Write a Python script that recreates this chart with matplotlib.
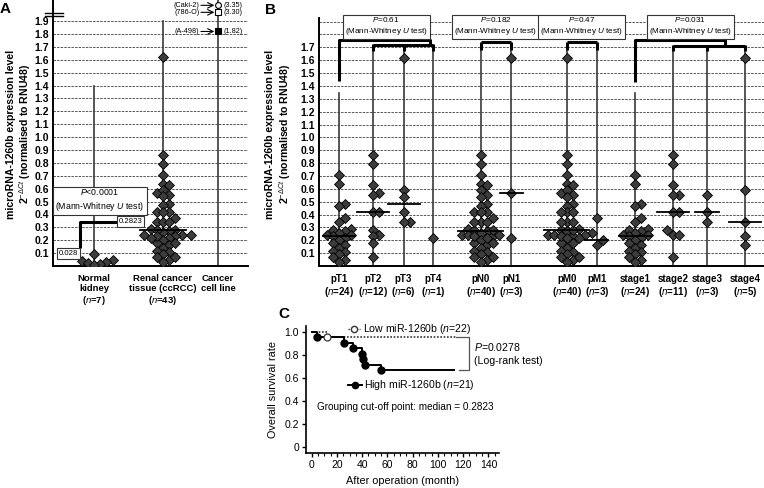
import numpy as np
import matplotlib
matplotlib.use("Agg")
import matplotlib.pyplot as plt
from matplotlib.lines import Line2D

plt.rcParams["font.family"] = ["Liberation Sans", "DejaVu Sans"]
plt.rcParams["mathtext.fontset"] = "custom"
plt.rcParams["mathtext.rm"] = "Liberation Sans"
plt.rcParams["mathtext.it"] = "Liberation Sans:italic"
plt.rcParams["mathtext.bf"] = "Liberation Sans:bold"

# ---- data ----
kidney = [0.09, 0.05, 0.035, 0.028, 0.02, 0.012, 0.008]

pT1 = [0.71, 0.64, 0.48, 0.47, 0.37, 0.34, 0.29, 0.28, 0.27, 0.26, 0.24, 0.24,
       0.23, 0.22, 0.20, 0.18, 0.16, 0.14, 0.12, 0.11, 0.09, 0.07, 0.05, 0.03]
pT2 = [0.86, 0.79, 0.63, 0.57, 0.55, 0.42, 0.42, 0.28, 0.24, 0.23, 0.18, 0.07]
pT3 = [1.62, 0.59, 0.54, 0.42, 0.34, 0.34]
pT4 = [0.22]
pN1 = [1.62, 0.57, 0.22]
pM1 = [0.37, 0.20, 0.16]
stage1 = list(pT1)
stage2 = [0.86, 0.79, 0.63, 0.55, 0.55, 0.42, 0.42, 0.28, 0.24, 0.24, 0.07]
stage3 = [0.55, 0.42, 0.34]
stage4 = [1.62, 0.59, 0.34, 0.23, 0.16]

renal = pT1 + pT2 + pT3 + pT4


def without(values, removed):
    rest = list(values)
    for v in removed:
        rest.remove(v)
    return rest


pN0 = without(renal, pN1)
pM0 = without(renal, pM1)

cell_names = ["Caki-2", "786-O", "A-498"]
cell_values = [3.35, 3.30, 1.82]

b_names = ["pT1", "pT2", "pT3", "pT4", "pN0", "pN1",
           "pM0", "pM1", "stage1", "stage2", "stage3", "stage4"]
b_groups = [pT1, pT2, pT3, pT4, pN0, pN1, pM0, pM1, stage1, stage2, stage3, stage4]
b_pvalues = ["0.61", "0.182", "0.47", "0.031"]

low_t = [0, 12.5, 114]
low_s = [1.0, 0.955, 0.955]
high_t = [0, 4, 26, 33, 40, 41, 42, 55, 113]
high_s = [1.0, 0.952, 0.905, 0.857, 0.810, 0.762, 0.714, 0.667, 0.667]

# ---- layout ----
W, H = 764, 488
fig = plt.figure(figsize=(W / 100, H / 100), dpi=100)


def px_axes(l, t, r, b):
    return fig.add_axes([l / W, 1 - b / H, (r - l) / W, (b - t) / H])


def swarm(values, ppu_x, ppu_y, d=6.2):
    # simple beeswarm: push points sideways until they stop overlapping
    vals = np.asarray(values, float)
    steps = [0.0]
    for j in range(1, 40):
        steps += [j * 0.5 * d, -j * 0.5 * d]
    placed = []
    offs = np.zeros(len(vals))
    for i in np.argsort(vals):
        y = vals[i] * ppu_y
        for c in steps:
            if all((c - px) ** 2 + (y - py) ** 2 >= d ** 2 for px, py in placed):
                break
        placed.append((c, y))
        offs[i] = c / ppu_x
    return offs


levels = np.round(np.arange(1, 20) * 0.1, 1)
grid_kw = dict(color="#555555", lw=0.7, ls=(0, (2.5, 1.2)), zorder=0)
stem_kw = dict(color="#3a3a3a", lw=1.2, zorder=1)
dia_kw = dict(ls="none", marker="D", ms=4.8, mfc="#3c3c3c", mec="black", mew=0.6, zorder=3)
brk_kw = dict(color="black", lw=2.2, solid_capstyle="butt", zorder=2)
box_kw = dict(boxstyle="square,pad=0.25", fc="white", ec="#333333", lw=0.8)

# ================= panel A =================
axA = px_axes(53, 16, 248, 266)
axAt = px_axes(53, 0, 248, 14)
a_pos = [1.0, 2.0, 2.8]
axA.set_xlim(0.406, 3.232)
axA.set_ylim(0, 1.94)
axAt.set_xlim(0.406, 3.232)
axAt.set_ylim(3.288, 3.388)

for v in levels:
    axA.axhline(v, **grid_kw)
for ax in (axA, axAt):
    for s in ("top", "right"):
        ax.spines[s].set_visible(False)
    ax.spines["left"].set_linewidth(1.4)
axAt.spines["bottom"].set_visible(False)
axA.spines["bottom"].set_linewidth(1.4)
axAt.set_xticks([])
axAt.set_yticks([])

axA.set_yticks(levels, [f"{v:.1f}" for v in levels])
axA.set_xticks(a_pos, ["Normal\nkidney\n($n$=%d)" % len(kidney),
                       "Renal cancer\ntissue (ccRCC)\n($n$=%d)" % len(renal),
                       "Cancer\ncell line"])
axA.tick_params(length=0, labelsize=7.5, pad=3)
axA.tick_params(axis="x", pad=6, labelsize=6.8)
for t in axA.get_xticklabels() + axA.get_yticklabels():
    t.set_fontweight("bold")
    t.set_linespacing(1.1)

axA.plot([1, 1], [0, 1.4], **stem_kw)
axA.plot([2, 2], [0, 1.9], **stem_kw)
axA.axvline(2.8, **stem_kw)
axAt.axvline(2.8, **stem_kw)

axA.plot(1 + swarm(kidney, 69, 128.9), kidney, **dia_kw)
axA.plot(2 + swarm(renal, 69, 128.9), renal, **dia_kw)
axA.plot([2 - 0.33, 2 + 0.33], [np.median(renal)] * 2, color="black", lw=1.3, zorder=4)

# cell lines
cell_style = [dict(marker="o", mfc="white"), dict(marker="s", mfc="white"),
              dict(marker="s", mfc="black")]
for name, val, st in zip(cell_names, cell_values, cell_style):
    ax = axAt if val > 2 else axA
    ax.plot([2.8], [val], ls="none", ms=4.2, mec="black", mew=0.8, zorder=5,
            clip_on=False, **st)
    ax.text(2.53, val, f"({name})", ha="right", va="center", fontsize=5.2)
    ax.annotate("", xy=(2.745, val), xytext=(2.55, val),
                arrowprops=dict(arrowstyle="->", lw=0.8, color="black",
                                shrinkA=0, shrinkB=0))
    ax.text(2.88, val, f"({val:.2f})", ha="left", va="center", fontsize=5.2)

axA.text(1.085, 0.512, "$P$<0.0001\n(Mann-Whitney $U$ test)", ha="center",
         va="center", fontsize=6.3, bbox=box_kw, zorder=6, linespacing=1.3)
axA.text(0.63, 0.10, "0.028", ha="center", va="center", fontsize=5.6,
         bbox=box_kw, zorder=6)
axA.text(1.53, 0.345, "%.4f" % 0.2823, ha="center", va="center", fontsize=5.6,
         bbox=box_kw, zorder=6)
axA.plot([0.797, 0.797, 1.33], [0.14, 0.345, 0.345], **brk_kw)

# axis break marks
for yy in (13.2, 16.3):
    fig.add_artist(Line2D([45 / W, 63 / W], [1 - yy / H] * 2, color="black", lw=1.0))

fig.text(5 / W, 1 - 9 / H, "A", fontsize=11, fontweight="bold", ha="center", va="center")
fig.text(19.5 / W, 1 - 134 / H,
         "microRNA-1260b expression level\n2$^{-\\Delta Ct}$ (normalised to RNU48)",
         rotation=90, ha="center", va="center", fontsize=7.6, fontweight="bold",
         linespacing=1.15)

# ================= panel B =================
axB = px_axes(319, 18, 764, 266)
b_pos = [0.625, 1.68, 2.64, 3.57, 5.05, 6.0, 7.74, 8.68, 9.875, 11.05, 12.12, 13.31]
axB.set_xlim(0, 13.9)
axB.set_ylim(0, 1.928)
for s in ("top", "right"):
    axB.spines[s].set_visible(False)
axB.spines["left"].set_linewidth(1.4)
axB.spines["bottom"].set_linewidth(1.4)
for v in levels:
    axB.axhline(v, **grid_kw)
b_ticks = levels[levels <= 1.7]
axB.set_yticks(b_ticks, [f"{v:.1f}" for v in b_ticks])
axB.set_xticks(b_pos, [f"{n}\n($n$={len(g)})" for n, g in zip(b_names, b_groups)])
axB.tick_params(length=0, labelsize=7.5, pad=3)
axB.tick_params(axis="x", pad=6, labelsize=7.0)
for t in axB.get_xticklabels() + axB.get_yticklabels():
    t.set_fontweight("bold")
    t.set_linespacing(1.1)

for i, (p, g) in enumerate(zip(b_pos, b_groups)):
    top = 1.345 if i in (0, 8) else (1.681 if i in (4, 5, 6, 7) else 1.668)
    axB.plot([p, p], [0, top], **stem_kw)
    axB.plot(p + swarm(g, 32, 128.6), g, **dia_kw)
    if len(g) > 1:
        hw = 0.7 if len(g) >= 40 else (0.5 if len(g) > 3 else 0.36)
        axB.plot([p - hw, p + hw], [np.median(g)] * 2, color="black", lw=1.3, zorder=4)


def bracket(ax, xs, y, leg):
    ax.plot([min(xs), max(xs)], [y, y], **brk_kw)
    for x in xs:
        ax.plot([x, x], [y + 0.006, leg], **brk_kw)


bracket(axB, b_pos[1:4], 1.72, 1.668)
axB.plot([b_pos[0], b_pos[0], 3.47, 3.47], [1.435, 1.759, 1.759, 1.72], **brk_kw)
bracket(axB, b_pos[4:6], 1.738, 1.681)
bracket(axB, b_pos[6:8], 1.738, 1.681)
bracket(axB, b_pos[9:12], 1.712, 1.668)
axB.plot([b_pos[8], b_pos[8], 12.69, 12.69], [1.43, 1.759, 1.759, 1.712], **brk_kw)

spans = [(0, 3), (4, 5), (6, 7), (8, 11)]
for (a, b), pv in zip(spans, b_pvalues):
    axB.text((b_pos[a] + b_pos[b]) / 2, 1.868, f"$P$={pv}\n(Mann-Whitney $U$ test)",
             ha="center", va="center", fontsize=5.9, bbox=box_kw, zorder=6,
             linespacing=1.25, clip_on=False)

fig.text(270 / W, 1 - 10 / H, "B", fontsize=11, fontweight="bold", ha="center", va="center")
fig.text(279 / W, 1 - 134 / H,
         "microRNA-1260b expression level\n2$^{-\\Delta Ct}$ (normalised to RNU48)",
         rotation=90, ha="center", va="center", fontsize=7.6, fontweight="bold",
         linespacing=1.15)

# ================= panel C =================
axC = px_axes(306, 326, 499, 452.7)
axC.set_xlim(-4.5, 148.4)
axC.set_ylim(-0.052, 1.05)
for s in ("top", "right"):
    axC.spines[s].set_visible(False)
axC.spines["left"].set_linewidth(1.2)
axC.spines["bottom"].set_linewidth(1.2)
axC.set_xticks(np.arange(0, 141, 20))
axC.set_xticks(np.arange(0, 146, 5), minor=True)
axC.set_yticks([0, 0.2, 0.4, 0.6, 0.8, 1.0], ["0", "0.2", "0.4", "0.6", "0.8", "1.0"])
axC.tick_params(which="major", length=3.0, width=1.0, labelsize=7.5, pad=2)
axC.tick_params(which="minor", length=1.8, width=0.8)
axC.tick_params(axis="x", pad=2.5)

axC.step(low_t, low_s, where="post", color="#333333", lw=1.2, ls=(0, (1, 1)))
axC.plot(low_t[1:-1], low_s[1:-1], "o", ms=5, mfc="white", mec="#333333", mew=0.9, zorder=4)
axC.step(high_t, high_s, where="post", color="black", lw=1.4)
axC.plot(high_t[1:-1], high_s[1:-1], "o", ms=5, color="black", zorder=4)

axC.plot([28.8, 38.3], [1.023, 1.023], color="#333333", lw=1.0, ls=(0, (1, 1)), clip_on=False)
axC.plot([33.5], [1.023], "o", ms=4.5, mfc="white", mec="#333333", clip_on=False)
axC.text(40.5, 1.023, "Low miR-1260b ($n$=%d)" % 22, va="center", fontsize=7.6)
axC.plot([28.5, 39.5], [0.537, 0.537], color="black", lw=1.4)
axC.plot([34], [0.537], "o", ms=4.5, color="black")
axC.text(41.5, 0.537, "High miR-1260b ($n$=%d)" % 21, va="center", fontsize=7.6)

axC.plot([114, 124.5, 124.5, 117], [0.955, 0.955, 0.667, 0.667], color="#555555", lw=0.9)
axC.text(128.5, 0.868, "$P$=0.0278", va="center", fontsize=7.6, clip_on=False)
axC.text(128.5, 0.745, "(Log-rank test)", va="center", fontsize=7.6, clip_on=False)
axC.text(4.3, 0.345, "Grouping cut-off point: median = %.4f" % 0.2823, va="center",
         fontsize=7.2)

fig.text(403 / W, 1 - 481 / H, "After operation (month)", fontsize=7.8,
         ha="center", va="center")
axC.set_ylabel("Overall survival rate", fontsize=7.8, labelpad=5)
fig.text(284 / W, 1 - 314 / H, "C", fontsize=11, fontweight="bold", ha="center", va="center")

fig.savefig("out.png", dpi=100)
